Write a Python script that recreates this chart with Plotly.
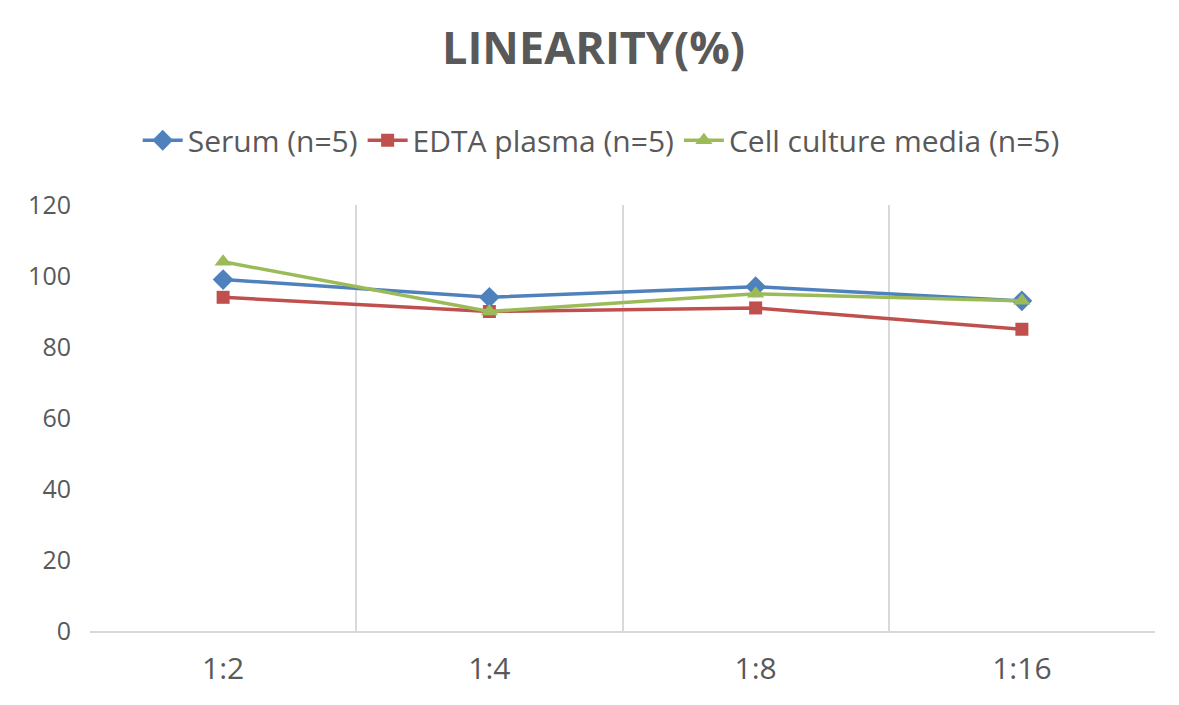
import plotly.graph_objects as go

categories = ["1:2", "1:4", "1:8", "1:16"]
serum = [99, 94, 97, 93]
edta = [94, 90, 91, 85]
cell = [104, 90, 95, 93]
y_ticks = [0, 20, 40, 60, 80, 100, 120]

fig = go.Figure()
fig.add_trace(go.Scatter(x=categories, y=serum, mode="lines+markers", name="Serum (n=5)",
                         line=dict(color="#4F81BD", width=3.5),
                         marker=dict(symbol="diamond", size=16, color="#4F81BD")))
fig.add_trace(go.Scatter(x=categories, y=edta, mode="lines+markers", name="EDTA plasma (n=5)",
                         line=dict(color="#C0504D", width=3.5),
                         marker=dict(symbol="square", size=13, color="#C0504D")))
fig.add_trace(go.Scatter(x=categories, y=cell, mode="lines+markers", name="Cell culture media (n=5)",
                         line=dict(color="#9BBB59", width=3.5),
                         marker=dict(symbol="triangle-up", size=15, color="#9BBB59")))

# page body has an 8px default margin, so the figure is shifted by 8px
fig.update_layout(
    width=1171, height=697,
    paper_bgcolor="white", plot_bgcolor="white",
    margin=dict(l=82, r=24, t=197, b=74),
    font=dict(family="Open Sans", color="#595959"),
    title=dict(text="<b>LINEARITY(%)</b>", x=0.5, xanchor="center", y=0.942, yanchor="middle",
               font=dict(size=45, color="#595959", family="Open Sans")),
    legend=dict(orientation="h", x=0.48, xanchor="center", y=1.152, yanchor="middle",
                font=dict(size=30, color="#595959"), itemwidth=40),
    showlegend=True,
)
fig.update_xaxes(type="category", range=[-0.5, 3.5], tickson="boundaries",
                 showgrid=True, gridcolor="#D9D9D9", gridwidth=1.5,
                 showline=True, linecolor="#D9D9D9", linewidth=1.5,
                 ticks="", tickfont=dict(size=30, color="#595959"), ticklabelstandoff=10,
                 mirror=False, zeroline=False)
fig.update_yaxes(range=[0, 120], tickvals=y_ticks, showgrid=False, zeroline=False,
                 showline=False, ticks="", tickfont=dict(size=25, color="#595959"),
                 ticklabelstandoff=18)

fig.write_html("out.html")
